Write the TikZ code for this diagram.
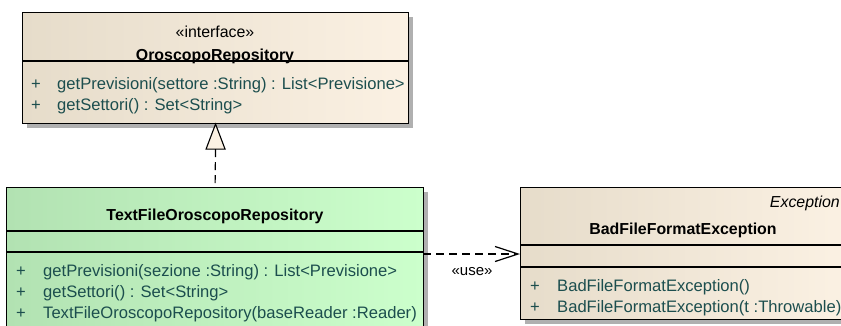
\documentclass[tikz,border=0pt]{standalone}
\usepackage{fontspec}
\setmainfont{Liberation Sans}
\usetikzlibrary{arrows.meta,calc}
\definecolor{tanL}{RGB}{230,220,202}
\definecolor{tanR}{RGB}{251,241,227}
\definecolor{grnL}{RGB}{178,226,178}
\definecolor{grnR}{RGB}{204,255,204}
\definecolor{teal}{RGB}{28,78,78}
\definecolor{shadowgray}{RGB}{176,176,176}
\tikzset{
  box/.style={draw=black, line width=1.1pt, anchor=north west, inner sep=0pt, shading=axis, shading angle=90},
  tanbox/.style={box, left color=tanL, right color=tanR},
  grnbox/.style={box, left color=grnL, right color=grnR},
  shd/.style={fill=shadowgray, draw=none},
  divider/.style={draw=black, line width=1.1pt},
  meth/.style={anchor=base west, inner sep=0pt, text=teal, font=\fontsize{16.6}{20}\selectfont},
  plus/.style={anchor=base west, inner sep=0pt, text=teal, font=\fontsize{16.6}{20}\selectfont},
  ttl/.style={anchor=base, inner sep=0pt, font=\fontsize{15.9}{20}\selectfont\bfseries},
  stereo/.style={anchor=base, inner sep=0pt, font=\fontsize{15.9}{20}\selectfont},
  dep/.style={line width=1.2pt, dash pattern=on 8pt off 5pt},
}
\begin{document}
\begin{tikzpicture}[x=1pt,y=-1pt]
\useasboundingbox (0,0) rectangle (841,325);
\clip (0,0) rectangle (841,325);
\fill[white] (0,0) rectangle (841,325);
% shadows
\fill[shd] (27,17) rectangle (413,128);
\fill[shd] (11,192) rectangle (428,345);
\fill[shd] (525,192) rectangle (852,324);
% box 1
\node[tanbox, minimum width=386pt, minimum height=111pt] (b1) at (22,12) {};
\draw[divider] (22,61) -- (408,61);
\node[stereo] (s1) at (215,37) {«interface»};
\node[ttl] (t1) at (215,60) {OroscopoRepository};
\node[plus] (p11) at (31,89) {+};
\node[meth] (m11) at (57,89) {getPrevisioni(settore :String) : List<Previsione>};
\node[plus] (p12) at (31,110) {+};
\node[meth] (m12) at (57,110) {getSettori() : Set<String>};
% box 2
\node[grnbox, minimum width=417pt, minimum height=153pt] (b2) at (6,187) {};
\draw[divider] (6,231) -- (423,231);
\draw[divider] (6,252) -- (423,252);
\node[ttl] (t2) at (215,220) {TextFileOroscopoRepository};
\node[plus] (p21) at (16,276) {+};
\node[meth] (m21) at (43,276) {getPrevisioni(sezione :String) : List<Previsione>};
\node[plus] (p22) at (16,297) {+};
\node[meth] (m22) at (43,297) {getSettori() : Set<String>};
\node[plus] (p23) at (16,318) {+};
\node[meth] (m23) at (43,318) {TextFileOroscopoRepository(baseReader :Reader)};
% box 3
\node[tanbox, minimum width=327pt, minimum height=132pt] (b3) at (520,187) {};
\draw[divider] (520,245) -- (847,245);
\draw[divider] (520,267) -- (847,267);
\node[anchor=base east, inner sep=0pt, font=\fontsize{15.9}{20}\selectfont\itshape] (e3) at (840,207) {Exception};
\node[ttl] (t3) at (683,234) {BadFileFormatException};
\node[plus] (p31) at (530,291) {+};
\node[meth] (m31) at (557,291) {BadFileFormatException()};
\node[plus] (p32) at (530,312) {+};
\node[meth] (m32) at (557,312) {BadFileFormatException(t :Throwable)};
% realization
\coordinate (tb) at ($(b1.south)+(0,25)$);
\draw[line width=1.1pt, fill=tanR] (b1.south) -- ($(b1.south)+(9.5,25)$) -- ($(b1.south)+(-9.5,25)$) -- cycle;
\draw[dep] (tb) -- (b2.north);
% dependency
\coordinate (d1) at (423,254);
\draw[dep, -{Straight Barb[length=23pt,width=15pt,line width=1.2pt]}] (d1) -- (d1 -| b3.west);
\node[stereo, font=\fontsize{15}{16}\selectfont] (u) at (472,275) {«use»};
\end{tikzpicture}
\end{document}
